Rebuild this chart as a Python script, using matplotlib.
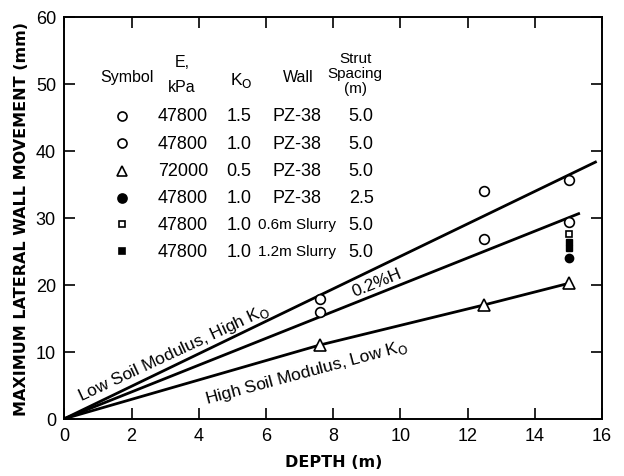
import matplotlib.pyplot as plt

# Measured maximum wall movements (mm) against excavation depth (m)
depth_open_circle = [7.6, 7.6, 12.5, 12.5, 15.0, 15.0]
move_open_circle = [17.8, 16.0, 34.0, 26.8, 35.6, 29.3]
depth_triangle = [7.6, 12.5, 15.0]
move_triangle = [11.0, 17.0, 20.2]
depth_filled_circle = [15.0]
move_filled_circle = [24.0]
depth_open_square = [15.0]
move_open_square = [27.6]
depth_filled_square = [15.0, 15.0]
move_filled_square = [26.4, 25.5]

# Trend lines
upper_x = [0, 15.8]
upper_y = [0, 38.3]
mid_x = [0, 15.3]
mid_y = [0, 30.6]
lower_x = [0, 7.6, 12.5, 15.0]
lower_y = [0, 11.0, 17.0, 20.2]

# Parameter table
tab_e = ["47800", "47800", "72000", "47800", "47800", "47800"]
tab_k = ["1.5", "1.0", "0.5", "1.0", "1.0", "1.0"]
tab_wall = ["PZ-38", "PZ-38", "PZ-38", "PZ-38", "0.6m Slurry", "1.2m Slurry"]
tab_s = ["5.0", "5.0", "5.0", "2.5", "5.0", "5.0"]
tab_marker = [("o", "none"), ("o", "none"), ("^", "none"),
              ("o", "k"), ("s", "none"), ("s", "k")]

plt.rcParams["font.family"] = ["Liberation Sans", "DejaVu Sans"]

fig = plt.figure(figsize=(6.24, 4.77), dpi=100)
ax = fig.add_axes([0.103, 0.12, 0.862, 0.843])

lw = 2.0
ax.plot(upper_x, upper_y, color="k", lw=lw)
ax.plot(mid_x, mid_y, color="k", lw=lw)
ax.plot(lower_x, lower_y, color="k", lw=lw)

ms = 7
ax.plot(depth_open_circle, move_open_circle, "o", mfc="white", mec="k", ms=ms, mew=1.2)
ax.plot(depth_triangle, move_triangle, "^", mfc="white", mec="k", ms=ms + 1, mew=1.2)
ax.plot(depth_open_square, move_open_square, "s", mfc="white", mec="k", ms=5, mew=1.2)
ax.plot(depth_filled_square, move_filled_square, "s", mfc="k", mec="k", ms=5)
ax.plot(depth_filled_circle, move_filled_circle, "o", mfc="k", mec="k", ms=6)

ax.set_xlim(0, 16)
ax.set_ylim(0, 60)
ax.set_xticks(range(0, 17, 2))
ax.set_yticks(range(0, 61, 10))
ax.tick_params(direction="in", length=8, width=1.2, top=True, right=True,
               labelsize=13, pad=6)
for s in ax.spines.values():
    s.set_linewidth(1.4)
ax.set_xlabel("DEPTH (m)", fontsize=11.5, fontweight="bold", labelpad=7,
              family="DejaVu Sans")
ax.set_ylabel("MAXIMUM LATERAL WALL MOVEMENT (mm)", fontsize=11.5,
              fontweight="bold", labelpad=5, family="DejaVu Sans")

# Line annotations
fl = 12.5
ax.text(3.25, 9.9, "Low Soil Modulus, High K$_\\mathrm{O}$", rotation=25,
        fontsize=fl, ha="center", va="center")
ax.text(9.3, 20.4, "0.2%H", rotation=22, fontsize=fl, ha="center", va="center")
ax.text(7.2, 7.0, "High Soil Modulus, Low K$_\\mathrm{O}$", rotation=15,
        fontsize=fl, ha="center", va="center")

# Table of cases
fh = 11.5
ax.text(1.85, 51.0, "Symbol", fontsize=fh, ha="center", va="center")
ax.text(3.5, 53.3, "E,", fontsize=fh, ha="center", va="center")
ax.text(3.5, 49.6, "kPa", fontsize=fh, ha="center", va="center")
ax.text(5.25, 50.6, "K$_\\mathrm{O}$", fontsize=fh + 1, ha="center", va="center")
ax.text(6.95, 51.0, "Wall", fontsize=fh, ha="center", va="center")
ax.text(8.65, 53.9, "Strut", fontsize=11, ha="center", va="center")
ax.text(8.65, 51.6, "Spacing", fontsize=11, ha="center", va="center")
ax.text(8.65, 49.3, "(m)", fontsize=11, ha="center", va="center")

fs = 13
rows_y = [45.2, 41.1, 37.0, 33.0, 29.0, 25.0]
for i, y in enumerate(rows_y):
    mk, fc = tab_marker[i]
    size = 6.5 if mk != "s" else 5
    ax.plot([1.73], [y], mk, mfc=fc if fc != "none" else "white", mec="k",
            ms=size, mew=1.2)
    ax.text(3.53, y, tab_e[i], fontsize=fs, ha="center", va="center")
    ax.text(5.2, y, tab_k[i], fontsize=fs, ha="center", va="center")
    wall_fs = fs if len(tab_wall[i]) < 8 else 11
    ax.text(6.93, y, tab_wall[i], fontsize=wall_fs, ha="center", va="center")
    ax.text(8.83, y, tab_s[i], fontsize=fs, ha="center", va="center")

fig.savefig("out.png", dpi=100)
